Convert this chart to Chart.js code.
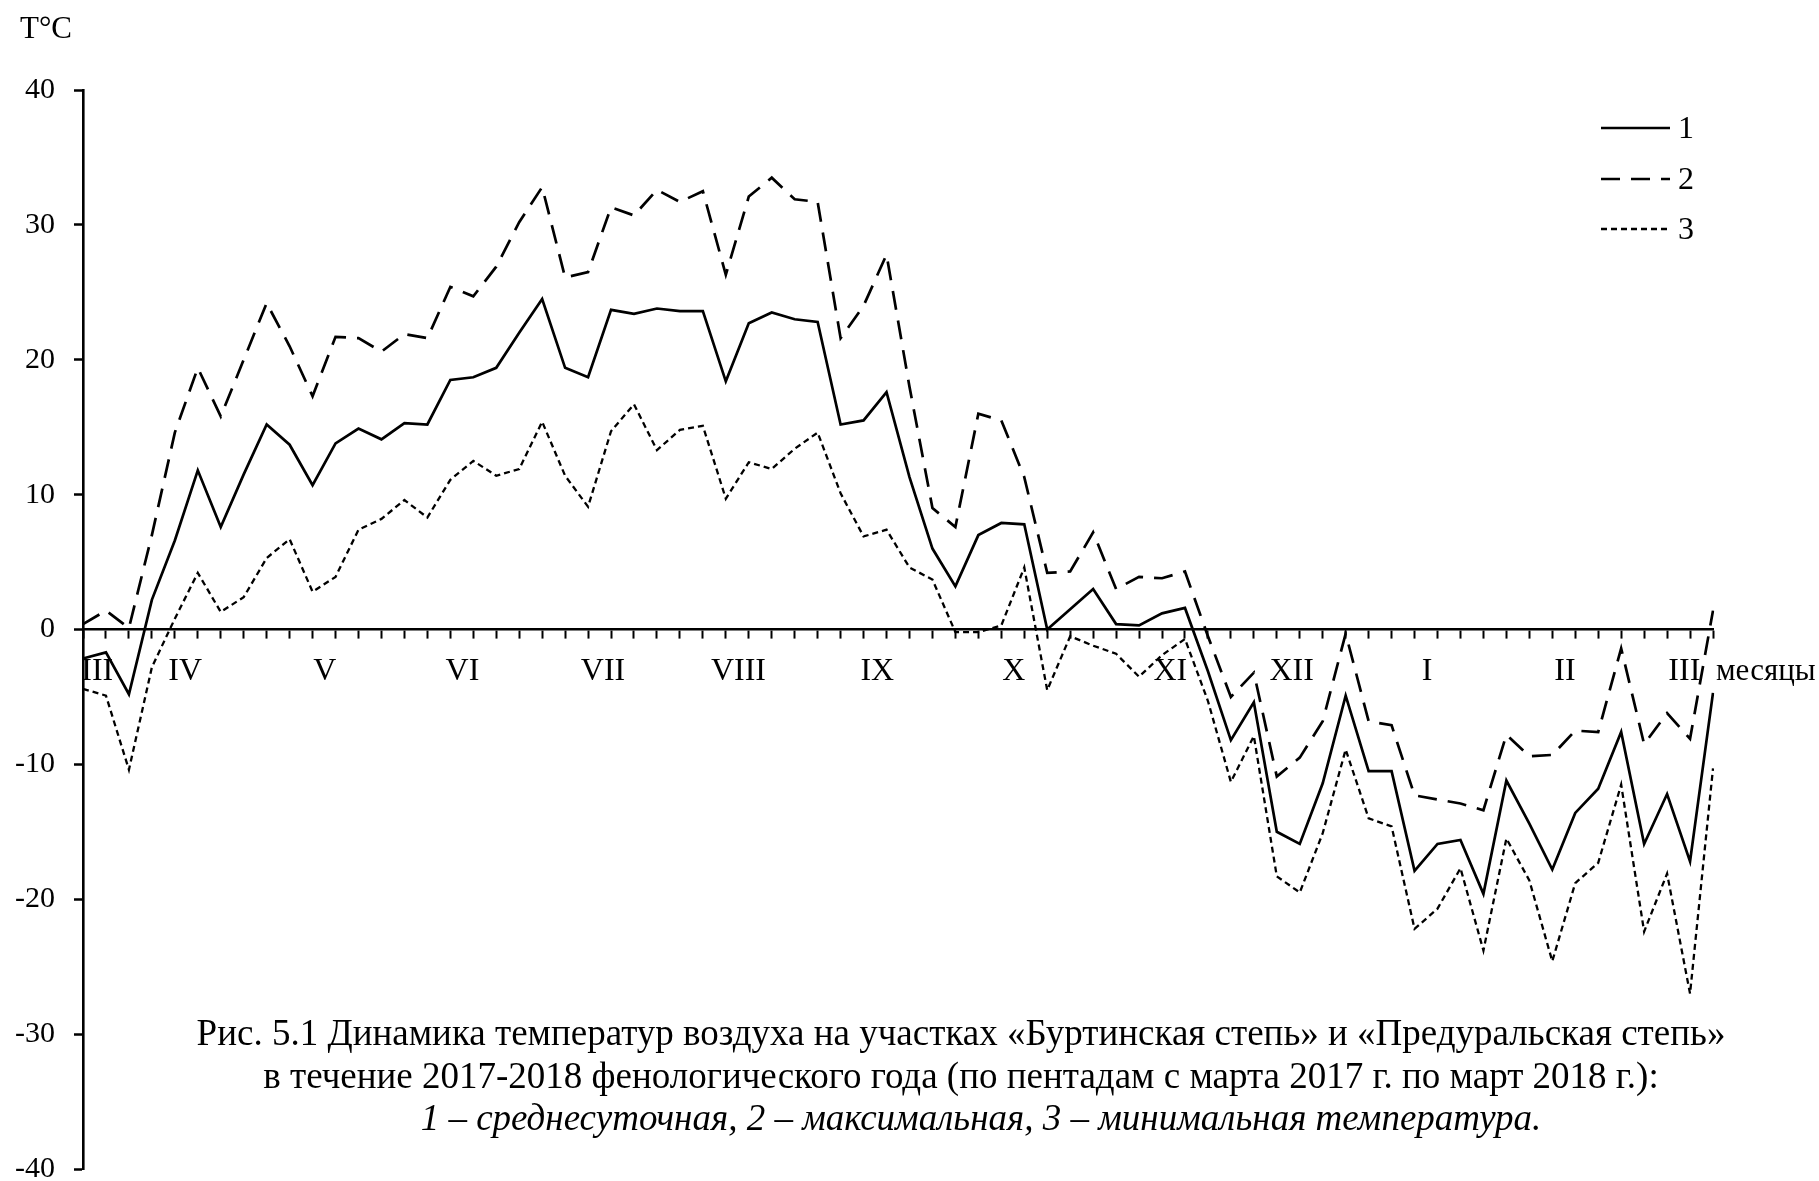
<!DOCTYPE html>
<html>
<head>
<meta charset="utf-8">
<script src="https://cdn.jsdelivr.net/npm/chart.js@4.4.1/dist/chart.umd.min.js"></script>
<style>
html,body{margin:0;padding:0;background:#fff}
#wrap{position:relative;width:1819px;height:1181px}
</style>
</head>
<body>
<div id="wrap"><canvas id="c" width="1819" height="1181"></canvas></div>
<script>
// ---- data ----
const pentads = ["1","2","3","4","5","6","7","8","9","10","11","12","13","14","15","16","17","18","19","20","21","22","23","24","25","26","27","28","29","30","31","32","33","34","35","36","37","38","39","40","41","42","43","44","45","46","47","48","49","50","51","52","53","54","55","56","57","58","59","60","61","62","63","64","65","66","67","68","69","70","71","72"];

const meanT = [-2.15,-1.7,-4.8,2.2,6.6,11.8,7.6,11.5,15.2,13.7,10.7,13.8,14.9,14.1,15.3,15.2,18.5,18.7,19.4,22.0,24.5,19.4,18.7,23.7,23.4,23.8,23.6,23.6,18.4,22.7,23.5,23.0,22.8,15.2,15.5,17.6,11.3,6.0,3.2,7.0,7.9,7.8,0.0,1.5,3.0,0.4,0.3,1.2,1.6,-3.1,-8.2,-5.4,-15.0,-15.9,-11.4,-4.9,-10.5,-10.5,-17.9,-15.9,-15.6,-19.6,-11.2,-14.4,-17.8,-13.6,-11.8,-7.6,-15.9,-12.2,-17.2,-4.7];

const maxT = [0.4,1.4,0.1,7.0,14.6,19.4,15.8,20.0,24.2,21.0,17.3,21.7,21.6,20.6,21.9,21.6,25.4,24.7,26.9,30.2,32.8,26.1,26.5,31.3,30.7,32.6,31.7,32.5,26.3,32.1,33.5,31.9,31.7,21.6,24.0,27.8,18.0,9.0,7.6,16.0,15.5,11.3,4.2,4.3,7.2,3.0,3.9,3.8,4.3,-0.5,-5.0,-3.2,-10.9,-9.5,-6.8,-0.3,-6.8,-7.1,-12.3,-12.6,-12.9,-13.4,-7.8,-9.4,-9.3,-7.5,-7.6,-1.4,-8.5,-6.2,-8.1,1.4];

const minT = [-4.4,-4.9,-10.4,-2.8,0.8,4.2,1.3,2.4,5.3,6.7,2.8,3.9,7.4,8.2,9.6,8.3,11.1,12.5,11.4,11.9,15.4,11.4,9.1,14.7,16.7,13.3,14.8,15.1,9.7,12.4,11.9,13.4,14.6,10.1,6.9,7.4,4.6,3.7,-0.2,-0.2,0.3,4.6,-4.5,-0.5,-1.2,-1.8,-3.5,-1.9,-0.7,-5.3,-11.3,-7.9,-18.3,-19.5,-15.1,-8.9,-14.0,-14.6,-22.2,-20.7,-17.7,-23.8,-15.5,-18.6,-24.6,-18.8,-17.3,-11.5,-22.4,-18.1,-27.0,-10.3];

const monthLabels = ["III","IV","V","VI","VII","VIII","IX","X","XI","XII","I","II","III"];
const monthPos = [0.62,4.45,10.53,16.53,22.65,28.55,34.6,40.54,47.36,52.65,58.55,64.55,69.75];

const seriesLabels = ["1","2","3"];
const yUnit = "T°C";
const xUnit = "месяцы";
const captionLines = [
  "Рис. 5.1 Динамика температур воздуха на участках «Буртинская степь» и «Предуральская степь»",
  "в течение 2017-2018 фенологического года (по пентадам с марта 2017 г. по март 2018 г.):",
  "1 – среднесуточная, 2 – максимальная, 3 – минимальная температура."
];

// ---- styles ----
const FONT = '"Liberation Serif", "Times New Roman", serif';

const extras = {
  id: 'extras',
  afterDraw(chart) {
    const ctx = chart.ctx;
    const area = chart.chartArea;
    const ys = chart.scales.y;
    ctx.save();
    ctx.fillStyle = '#000';
    ctx.textBaseline = 'middle';
    ctx.textAlign = 'left';
    ctx.font = '31px ' + FONT;
    ctx.fillText(yUnit, 20, 30);
    ctx.font = '31px ' + FONT;
    ctx.fillText(xUnit, area.right + 3, ys.getPixelForValue(0) + 42);
    const legX1 = area.right - 112, legX2 = area.right - 43;
    const legY = [128, 179, 229];
    chart.data.datasets.forEach((ds, k) => {
      ctx.save();
      ctx.strokeStyle = ds.borderColor;
      ctx.lineWidth = ds.borderWidth;
      ctx.setLineDash(ds.borderDash || []);
      ctx.beginPath();
      ctx.moveTo(legX1, legY[k]);
      ctx.lineTo(legX2, legY[k]);
      ctx.stroke();
      ctx.restore();
      ctx.font = '32px ' + FONT;
      ctx.textAlign = 'left';
      ctx.fillText(ds.label, legX2 + 8, legY[k] + 2);
    });
    ctx.textAlign = 'center';
    const capY = [1035, 1078, 1120];
    const capX = [961, 961, 981];
    captionLines.forEach((t, k) => {
      ctx.font = (k === 2 ? 'italic ' : '') + '37px ' + FONT;
      ctx.fillText(t, capX[k], capY[k]);
    });
    ctx.restore();
  }
};

new Chart(document.getElementById('c'), {
  type: 'line',
  data: {
    labels: pentads,
    datasets: [
      { label: seriesLabels[0], data: meanT, borderColor: '#000', borderWidth: 2.7, borderDash: [], pointRadius: 0, tension: 0, borderJoinStyle: 'miter', fill: false },
      { label: seriesLabels[1], data: maxT, borderColor: '#000', borderWidth: 2.7, borderDash: [19, 11], pointRadius: 0, tension: 0, borderJoinStyle: 'miter', fill: false },
      { label: seriesLabels[2], data: minT, borderColor: '#000', borderWidth: 2.3, borderDash: [6, 4], pointRadius: 0, tension: 0, borderJoinStyle: 'miter', fill: false }
    ]
  },
  options: {
    responsive: false,
    animation: false,
    devicePixelRatio: 1,
    layout: { padding: { left: 0, right: 106, top: 90, bottom: 12 } },
    plugins: { legend: { display: false }, tooltip: { enabled: false }, title: { display: false } },
    scales: {
      y: {
        type: 'linear', axis: 'y', min: -40, max: 40,
        ticks: { stepSize: 10, color: '#000', font: { family: FONT, size: 30 }, padding: 19 },
        grid: { drawOnChartArea: false, drawTicks: true, tickLength: 9, tickWidth: 2.5, tickColor: '#000' },
        border: { display: true, color: '#000', width: 2.6 },
        afterFit(scale) { scale.width = 83; scale.paddingTop = 0; scale.paddingBottom = 0; }
      },
      x: {
        type: 'category', axis: 'x', offset: false,
        position: { y: 0 },
        ticks: { display: false, autoSkip: false },
        grid: { drawOnChartArea: false, drawTicks: true, tickLength: 8, tickWidth: 2, tickColor: '#000', offset: false },
        border: { display: true, color: '#000', width: 2.6 }
      },
      m: {
        type: 'linear', axis: 'x', min: 0, max: pentads.length - 1,
        position: { y: 0 },
        afterBuildTicks(scale) { scale.ticks = monthPos.map(v => ({ value: v })); },
        ticks: {
          autoSkip: false, maxRotation: 0, minRotation: 0, padding: 23,
          color: '#000', font: { family: FONT, size: 32 },
          callback(value, index) { return monthLabels[index]; }
        },
        grid: { display: false, drawTicks: false },
        border: { display: false },
        afterFit(scale) { scale.paddingLeft = 0; scale.paddingRight = 0; }
      }
    }
  },
  plugins: [extras]
});
</script>
</body>
</html>
